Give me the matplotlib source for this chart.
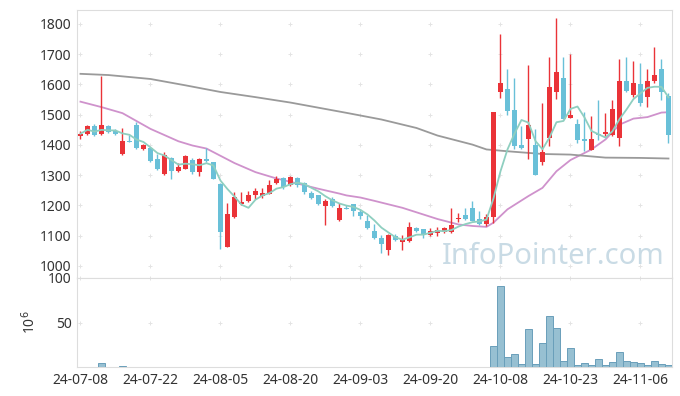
import numpy as np
import pandas as pd
import matplotlib
matplotlib.use("Agg")
from matplotlib import pyplot as plt

# trading days (KRX, holidays removed)
holidays = ["2024-08-15", "2024-09-16", "2024-09-17", "2024-09-18",
            "2024-10-01", "2024-10-03", "2024-10-09"]
dates = pd.bdate_range("2024-07-08", "2024-11-12")
dates = dates[~dates.isin(pd.to_datetime(holidays))]

opens = [1428, 1435, 1464, 1437, 1464, 1445, 1371, 1414, 1465, 1388,
         1389, 1352, 1305, 1357, 1313, 1322, 1349, 1310, 1355, 1342,
         1272, 1064, 1161, 1204, 1216, 1233, 1231, 1239, 1273, 1291,
         1267, 1291, 1275, 1240, 1234, 1198, 1220, 1151, 1192, 1203,
         1178, 1150, 1117, 1093, 1053, 1099, 1080, 1082, 1126, 1121,
         1102, 1108, 1112, 1112, 1154, 1167, 1190, 1156, 1137, 1161,
         1575, 1586, 1514, 1400, 1420, 1401, 1343, 1423, 1575, 1621,
         1488, 1470, 1418, 1382, 1437, 1437, 1432, 1423, 1612, 1565,
         1602, 1558, 1611, 1651, 1563]
highs = [1446, 1465, 1470, 1628, 1466, 1454, 1457, 1434, 1475, 1403,
         1392, 1371, 1378, 1360, 1341, 1368, 1358, 1358, 1390, 1343,
         1275, 1209, 1245, 1244, 1246, 1256, 1256, 1283, 1297, 1293,
         1296, 1294, 1278, 1247, 1236, 1221, 1229, 1207, 1200, 1205,
         1189, 1167, 1137, 1102, 1104, 1104, 1101, 1146, 1130, 1123,
         1126, 1128, 1130, 1192, 1176, 1190, 1214, 1181, 1170, 1510,
         1767, 1651, 1621, 1464, 1665, 1451, 1539, 1690, 1819, 1690,
         1701, 1486, 1508, 1497, 1549, 1506, 1549, 1684, 1690, 1676,
         1670, 1650, 1723, 1684, 1570]
lows = [1420, 1433, 1430, 1432, 1440, 1433, 1366, 1408, 1387, 1384,
        1343, 1318, 1301, 1286, 1311, 1320, 1304, 1297, 1345, 1286,
        1055, 1062, 1159, 1200, 1210, 1222, 1224, 1237, 1270, 1253,
        1265, 1262, 1238, 1221, 1200, 1134, 1196, 1149, 1187, 1165,
        1155, 1122, 1090, 1044, 1035, 1083, 1052, 1080, 1113, 1093,
        1098, 1100, 1108, 1110, 1144, 1153, 1148, 1135, 1133, 1143,
        1555, 1500, 1385, 1385, 1352, 1300, 1334, 1398, 1552, 1487,
        1488, 1405, 1379, 1382, 1416, 1430, 1430, 1398, 1575, 1560,
        1530, 1527, 1605, 1549, 1407]
closes = [1437, 1463, 1432, 1467, 1442, 1435, 1414, 1409, 1389, 1401,
          1346, 1320, 1368, 1313, 1327, 1362, 1310, 1352, 1347, 1288,
          1113, 1170, 1229, 1212, 1236, 1247, 1241, 1267, 1286, 1262,
          1295, 1266, 1244, 1223, 1203, 1215, 1198, 1192, 1189, 1181,
          1165, 1124, 1091, 1071, 1101, 1085, 1085, 1130, 1115, 1102,
          1115, 1118, 1124, 1134, 1159, 1156, 1150, 1137, 1163, 1509,
          1605, 1511, 1398, 1389, 1466, 1300, 1375, 1592, 1642, 1487,
          1499, 1415, 1412, 1418, 1432, 1444, 1520, 1612, 1577, 1605,
          1539, 1610, 1631, 1575, 1432]
# volume, millions of shares
volumes = [0.3, 0.4, 0.3, 4.0, 0.4, 0.3, 1.0, 0.3, 0.3, 0.2,
           0.2, 0.2, 0.3, 0.2, 0.2, 0.2, 0.2, 0.2, 0.2, 0.3,
           0.5, 0.4, 0.3, 0.2, 0.2, 0.2, 0.2, 0.2, 0.2, 0.2,
           0.2, 0.2, 0.2, 0.2, 0.2, 0.2, 0.2, 0.2, 0.1, 0.1,
           0.2, 0.2, 0.2, 0.2, 0.3, 0.1, 0.1, 0.2, 0.1, 0.1,
           0.1, 0.1, 0.1, 0.2, 0.2, 0.2, 0.2, 0.2, 0.3, 23.3,
           91.3, 10.9, 14.3, 3.0, 42.5, 3.0, 26.7, 57.1, 43.6, 6.4,
           21.0, 2.0, 4.1, 2.0, 8.6, 2.0, 5.3, 16.5, 6.4, 5.3,
           4.1, 2.0, 6.4, 3.0, 2.0]

# moving averages (need history before 07-08)
ma20_dates = ["2024-07-08", "2024-07-11", "2024-07-16", "2024-07-22", "2024-07-26",
              "2024-07-30", "2024-08-01", "2024-08-05", "2024-08-07", "2024-08-12",
              "2024-08-16", "2024-08-20", "2024-08-26", "2024-08-29", "2024-08-30",
              "2024-09-03", "2024-09-05", "2024-09-11", "2024-09-23", "2024-09-26",
              "2024-09-30", "2024-10-04", "2024-10-07", "2024-10-10", "2024-10-15",
              "2024-10-17", "2024-10-21", "2024-10-23", "2024-10-28", "2024-10-30",
              "2024-11-01", "2024-11-05", "2024-11-07", "2024-11-11", "2024-11-12"]
ma20_vals = [1543, 1525, 1505, 1453, 1412, 1398, 1388, 1364, 1340, 1310,
             1289, 1278, 1255, 1239, 1233, 1226, 1215, 1192, 1155, 1137,
             1132, 1129, 1143, 1187, 1231, 1258, 1313, 1350, 1385, 1418,
             1467, 1487, 1492, 1507, 1508]
ma120_dates = ["2024-07-08", "2024-07-12", "2024-07-22", "2024-07-29", "2024-08-05",
               "2024-08-12", "2024-08-20", "2024-08-30", "2024-09-06", "2024-09-13",
               "2024-09-23", "2024-09-30", "2024-10-04", "2024-10-10", "2024-10-17",
               "2024-10-23", "2024-10-30", "2024-11-06", "2024-11-12"]
ma120_vals = [1635, 1631, 1618, 1597, 1575, 1558, 1540, 1506, 1484, 1456,
              1431, 1401, 1385, 1379, 1370, 1368, 1358, 1357, 1355]

df = pd.DataFrame({"open": opens, "high": highs, "low": lows,
                   "close": closes, "vol": volumes}, index=dates)
df["ma5"] = df["close"].rolling(5, min_periods=1).mean()
pos = {d: i for i, d in enumerate(df.index)}
ma20_x = [pos[pd.Timestamp(d)] for d in ma20_dates]
ma120_x = [pos[pd.Timestamp(d)] for d in ma120_dates]

plt.rcParams['font.family'] = ['Noto Sans', 'DejaVu Sans']
fig = plt.figure(figsize=(6.8, 3.96), dpi=100)
ax = fig.add_axes([0.1132, 0.298, 0.8750, 0.6767])
axv = fig.add_axes([0.1132, 0.0732, 0.8750, 0.2248], sharex=ax)

x = np.arange(len(df))
up = df["close"] >= df["open"]
red = "#ea3338"
blue = "#69c0d8"
colors = np.where(up, red, blue)

ax.vlines(x, df["low"], df["high"], colors=colors, linewidth=1.0, zorder=3)
body = (df["close"] - df["open"]).abs().clip(lower=2)
bottom = df[["open", "close"]].min(axis=1)
ax.bar(x, body, bottom=bottom, width=0.62, color=colors, linewidth=0, zorder=4)

ax.plot(x, df["ma5"], color="#8fcfc0", linewidth=1.3, zorder=5)
ax.plot(ma20_x, ma20_vals, color="#cf92cc", linewidth=1.3, zorder=2)
ax.plot(ma120_x, ma120_vals, color="#9a9a9a", linewidth=1.3, zorder=2)

ax.text(0.80, 0.082, "InfoPointer.com", transform=ax.transAxes, ha="center",
        va="center", fontsize=21, color="#c9dbe5", zorder=1)

axv.bar(x, df["vol"], width=1.0, color="#97c0d2", edgecolor="#6a9fba",
        linewidth=0.7, zorder=3)

ticks = x[::10]
ax.set_xlim(-0.5, len(df) - 0.5)
ax.set_ylim(960, 1846)
ax.set_yticks(range(1000, 1801, 100))
axv.set_ylim(0, 100)
axv.set_yticks([50, 100])
axv.set_xticks(ticks)
axv.set_xticklabels([d.strftime("%y-%m-%d") for d in df.index[ticks]])
ax.tick_params(axis="x", labelbottom=False)
axv.set_ylabel("10$^6$", fontsize=10, color="#333333", labelpad=6)

# little "+" grid marks
for a, yt in ((ax, range(1000, 1801, 100)), (axv, [50, 100])):
    gx, gy = np.meshgrid(ticks, list(yt))
    a.scatter(gx.ravel(), gy.ravel(), marker="+", s=9, color="#e4e4e4",
              linewidths=0.7, zorder=0, clip_on=False)
    a.tick_params(length=0, labelsize=10, labelcolor="#333333", pad=4)
    for s in a.spines.values():
        s.set_color("#dddddd")

fig.savefig("out.png", dpi=100)
